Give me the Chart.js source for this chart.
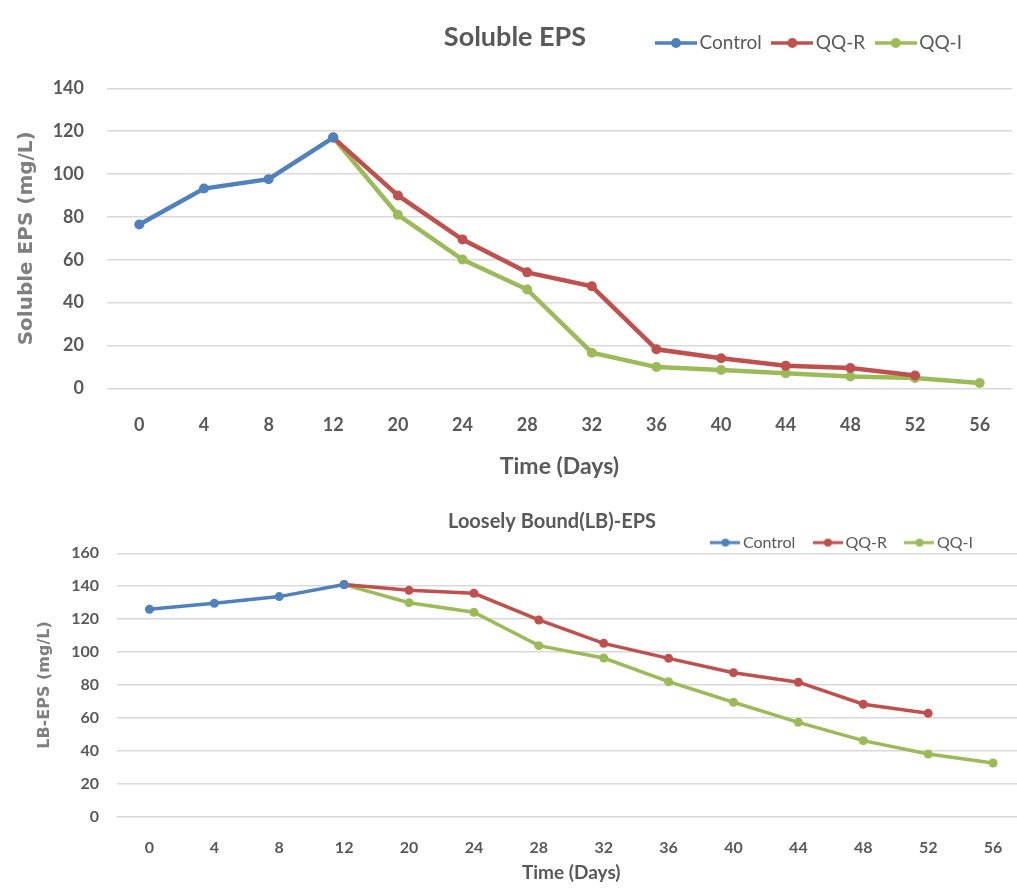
<!DOCTYPE html>
<html>
<head>
<meta charset="utf-8">
<title>EPS over time</title>
<script src="https://cdn.jsdelivr.net/npm/chart.js@4/dist/chart.umd.min.js"></script>
<style>
  html, body { margin: 0; padding: 0; background: #ffffff; overflow: hidden; width: 1017px; height: 889px; }
  .panel { position: absolute; left: 0; }
</style>
</head>
<body>
<div class="panel" style="top:0px"><canvas id="soluble" width="1017" height="492"></canvas></div>
<div class="panel" style="top:492px"><canvas id="loose" width="1030" height="397"></canvas></div>
<script>
// Sampling days (categories shared by both panels)
const days = ['0', '4', '8', '12', '20', '24', '28', '32', '36', '40', '44', '48', '52', '56'];
const seriesNames = ['Control', 'QQ-R', 'QQ-I'];
const seriesColors = ['#4F81BD', '#C0504D', '#9BBB59'];

// Soluble EPS (mg/L)
const solubleControl = [76.4, 93.2, 97.6, 117, null, null, null, null, null, null, null, null, null, null];
const solubleQQR     = [null, null, null, 117, 90, 69.4, 54.1, 47.6, 18.2, 14, 10.5, 9.5, 6, null];
const solubleQQI     = [null, null, null, 117, 81, 60.1, 46.1, 16.6, 9.9, 8.5, 7, 5.5, 4.8, 2.5];
const solubleTicks   = [0, 20, 40, 60, 80, 100, 120, 140];

// Loosely bound EPS (mg/L)
const lbControl = [126, 129.6, 133.7, 141, null, null, null, null, null, null, null, null, null, null];
const lbQQR     = [null, null, null, 141, 137.5, 135.7, 119.5, 105.3, 96.2, 87.5, 81.7, 68.3, 62.8, null];
const lbQQI     = [null, null, null, 141, 130, 124.2, 103.9, 96.4, 82, 69.5, 57.3, 46.2, 38.1, 32.6];
const lbTicks   = [0, 20, 40, 60, 80, 100, 120, 140, 160];

const GRAY = '#595959';
const FONT = "Lato, 'Open Sans', sans-serif";

// Heading text drawn on the same row as the legend
const heading = {
  id: 'heading',
  afterDraw(chart, args, opts) {
    const ctx = chart.ctx;
    ctx.save();
    ctx.font = opts.font;
    ctx.fillStyle = opts.color;
    ctx.textAlign = 'center';
    ctx.textBaseline = 'middle';
    ctx.fillText(opts.text, opts.x, opts.y);
    ctx.restore();
  }
};

// Extra room under the legend and an inset from the right edge
const legendPlacement = {
  id: 'legendPlacement',
  beforeLayout(chart, args, opts) {
    const lg = chart.legend;
    if (lg && !lg._extraFit) {
      lg._extraFit = true;
      const baseFit = lg.fit;
      lg.fit = function () {
        baseFit.call(this);
        this.height += opts.extraHeight || 0;
      };
    }
  },
  afterLayout(chart, args, opts) {
    if (chart.legend) chart.legend.right -= (opts.rightInset || 0);
  }
};

// Line-with-marker legend symbol
function legendSymbol(color, width, lineWidth, radius) {
  const c = document.createElement('canvas');
  c.width = width;
  c.height = Math.ceil(radius * 2 + 2);
  const g = c.getContext('2d');
  const cy = c.height / 2;
  g.strokeStyle = color;
  g.lineWidth = lineWidth;
  g.beginPath(); g.moveTo(0, cy); g.lineTo(width, cy); g.stroke();
  g.fillStyle = color;
  g.beginPath(); g.arc(width / 2, cy, radius, 0, Math.PI * 2); g.fill();
  return c;
}

function makeDatasets(values, lineWidth, radius) {
  return values.map((data, i) => ({
    label: seriesNames[i],
    data: data,
    borderColor: seriesColors[i],
    backgroundColor: seriesColors[i],
    pointBackgroundColor: seriesColors[i],
    pointBorderColor: seriesColors[i],
    borderWidth: lineWidth,
    pointRadius: radius,
    pointBorderWidth: 0,
    tension: 0,
    spanGaps: false
  }));
}

function makeChart(id, cfg) {
  const symbols = seriesColors.map(c => legendSymbol(c, cfg.symbolWidth, cfg.symbolLine, cfg.symbolRadius));
  return new Chart(document.getElementById(id), {
    type: 'line',
    data: { labels: days, datasets: makeDatasets(cfg.values, cfg.lineWidth, cfg.pointRadius) },
    plugins: [heading, legendPlacement],
    options: {
      responsive: false,
      animation: false,
      devicePixelRatio: 1,
      layout: { padding: { top: cfg.padTop, left: 0, right: cfg.padRight, bottom: 0 } },
      plugins: {
        tooltip: { enabled: false },
        heading: { text: cfg.title, x: cfg.titleX, y: cfg.titleY, font: cfg.titleFont, color: GRAY },
        legendPlacement: { extraHeight: cfg.legendExtra, rightInset: cfg.legendInset },
        legend: {
          position: 'top',
          align: 'end',
          labels: {
            usePointStyle: true,
            pointStyleWidth: cfg.legendBox,
            boxHeight: cfg.symbolRadius * 2,
            padding: cfg.legendPad,
            color: GRAY,
            font: { family: FONT, size: cfg.legendFont },
            generateLabels(chart) {
              const items = Chart.defaults.plugins.legend.labels.generateLabels(chart);
              items.forEach(it => { it.pointStyle = symbols[it.datasetIndex]; it.lineWidth = 0; });
              return items;
            }
          }
        }
      },
      scales: {
        x: {
          offset: true,
          grid: { display: false, drawTicks: false },
          border: { display: false },
          ticks: { color: GRAY, padding: cfg.xTickPad, font: { family: FONT, size: cfg.tickFont, weight: 'bold' }, maxRotation: 0, autoSkip: false },
          title: { display: true, text: 'Time (Days)', color: GRAY, font: { family: FONT, size: cfg.xTitleFont, weight: 'bold' }, padding: { top: 0, bottom: cfg.xTitlePad } },
          afterFit(scale) { scale.height = cfg.xHeight; }
        },
        y: {
          min: 0,
          max: cfg.ticks[cfg.ticks.length - 1],
          afterBuildTicks(scale) { scale.ticks = cfg.ticks.map(v => ({ value: v })); },
          grid: { color: '#d9d9d9', lineWidth: 1.5, drawTicks: false },
          border: { display: false },
          ticks: { color: GRAY, padding: cfg.yTickPad, font: { family: FONT, size: cfg.tickFont, weight: 'bold' } },
          title: { display: true, text: cfg.yTitle, color: '#7f7f7f', font: { family: "'DejaVu Sans', sans-serif", size: cfg.yTitleFont, weight: 'bold' }, padding: { top: cfg.yTitlePad, bottom: 0 } },
          afterFit(scale) { scale.width = cfg.yWidth; }
        }
      }
    }
  });
}

makeChart('soluble', {
  values: [solubleControl, solubleQQR, solubleQQI],
  ticks: solubleTicks,
  title: 'Soluble EPS', titleX: 515, titleY: 37, titleFont: "bold 27px " + FONT,
  yTitle: 'Soluble EPS (mg/L)', yTitleFont: 20, yTitlePad: 15,
  lineWidth: 4.5, pointRadius: 5,
  symbolWidth: 42, symbolLine: 3.5, symbolRadius: 5,
  legendBox: 28, legendPad: 16.5, legendFont: 19, legendExtra: 25.8, legendInset: 38.5,
  padTop: 17, padRight: 0,
  tickFont: 18, xTickPad: 26, yTickPad: 23, xTitleFont: 23, xTitlePad: 12,
  xHeight: 103.7, yWidth: 107
});

makeChart('loose', {
  values: [lbControl, lbQQR, lbQQI],
  ticks: lbTicks,
  title: 'Loosely Bound(LB)-EPS', titleX: 552, titleY: 30, titleFont: "bold 20px " + FONT,
  yTitle: 'LB-EPS (mg/L)', yTitleFont: 16, yTitlePad: 35,
  lineWidth: 3.5, pointRadius: 4.5,
  symbolWidth: 30, symbolLine: 3, symbolRadius: 4,
  legendBox: 19, legendPad: 23, legendFont: 16, legendExtra: -7.3, legendInset: 31,
  padTop: 19.6, padRight: 3,
  tickFont: 16, xTickPad: 22, yTickPad: 18, xTitleFont: 19, xTitlePad: 5,
  xHeight: 72.3, yWidth: 117
});
</script>
</body>
</html>
